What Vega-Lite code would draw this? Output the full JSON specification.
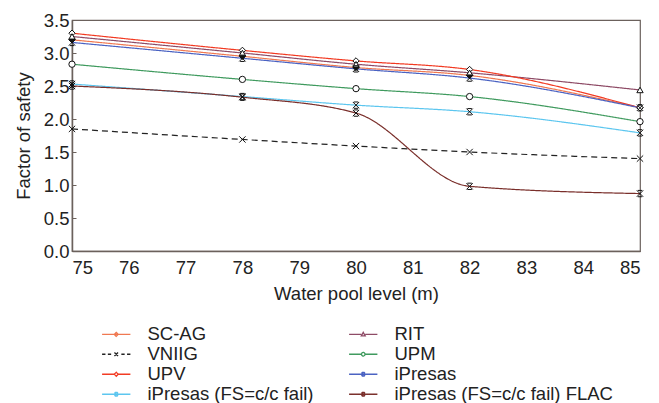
{
  "$schema": "https://vega.github.io/schema/vega-lite/v6.json",
  "autosize": {"type": "none"},
  "width": 568,
  "height": 231,
  "padding": {"left": 72, "top": 20, "right": 19, "bottom": 152},
  "background": "white",
  "config": {
    "font": "Liberation Sans",
    "view": {"stroke": "#6b615c", "strokeWidth": 1.2},
    "legend": {"padding": 0}
  },
  "data": {"values": [
    {"series": "SC-AG", "level": 75, "fs": 3.20}, {"series": "SC-AG", "level": 78, "fs": 2.95}, {"series": "SC-AG", "level": 80, "fs": 2.78}, {"series": "SC-AG", "level": 82, "fs": 2.66}, {"series": "SC-AG", "level": 85, "fs": 2.17},
    {"series": "RIT", "level": 75, "fs": 3.25}, {"series": "RIT", "level": 78, "fs": 3.00}, {"series": "RIT", "level": 80, "fs": 2.83}, {"series": "RIT", "level": 82, "fs": 2.70}, {"series": "RIT", "level": 85, "fs": 2.44},
    {"series": "VNIIG", "level": 75, "fs": 1.85}, {"series": "VNIIG", "level": 78, "fs": 1.69}, {"series": "VNIIG", "level": 80, "fs": 1.59}, {"series": "VNIIG", "level": 82, "fs": 1.50}, {"series": "VNIIG", "level": 85, "fs": 1.40},
    {"series": "UPM", "level": 75, "fs": 2.83}, {"series": "UPM", "level": 78, "fs": 2.60}, {"series": "UPM", "level": 80, "fs": 2.46}, {"series": "UPM", "level": 82, "fs": 2.34}, {"series": "UPM", "level": 85, "fs": 1.96},
    {"series": "UPV", "level": 75, "fs": 3.30}, {"series": "UPV", "level": 78, "fs": 3.04}, {"series": "UPV", "level": 80, "fs": 2.88}, {"series": "UPV", "level": 82, "fs": 2.75}, {"series": "UPV", "level": 85, "fs": 2.17},
    {"series": "iPresas", "level": 75, "fs": 3.16}, {"series": "iPresas", "level": 78, "fs": 2.92}, {"series": "iPresas", "level": 80, "fs": 2.76}, {"series": "iPresas", "level": 82, "fs": 2.62}, {"series": "iPresas", "level": 85, "fs": 2.17},
    {"series": "iPresas (FS=c/c  fail)", "level": 75, "fs": 2.53}, {"series": "iPresas (FS=c/c  fail)", "level": 78, "fs": 2.34}, {"series": "iPresas (FS=c/c  fail)", "level": 80, "fs": 2.21}, {"series": "iPresas (FS=c/c  fail)", "level": 82, "fs": 2.11}, {"series": "iPresas (FS=c/c  fail)", "level": 85, "fs": 1.79},
    {"series": "iPresas (FS=c/c  fail) FLAC", "level": 75, "fs": 2.50}, {"series": "iPresas (FS=c/c  fail) FLAC", "level": 78, "fs": 2.33}, {"series": "iPresas (FS=c/c  fail) FLAC", "level": 80, "fs": 2.09}, {"series": "iPresas (FS=c/c  fail) FLAC", "level": 82, "fs": 0.98}, {"series": "iPresas (FS=c/c  fail) FLAC", "level": 85, "fs": 0.87}
  ]},
  "encoding": {
    "x": {"field": "level", "type": "quantitative", "title": "Water pool level (m)", "scale": {"domain": [75, 85], "nice": false, "zero": false}, "axis": {"values": [75, 76, 77, 78, 79, 80, 81, 82, 83, 84, 85], "grid": false, "ticks": false, "domainColor": "#6b615c", "domainWidth": 1.5, "labelFont": "Liberation Sans", "titleFont": "Liberation Sans", "labelFontSize": 18.5, "titleFontSize": 18.5, "labelColor": "#222", "titleColor": "#222", "titleFontWeight": "normal", "labelPadding": 7, "titlePadding": 8}},
    "y": {"field": "fs", "type": "quantitative", "title": "Factor of safety", "scale": {"domain": [0, 3.5], "nice": false}, "axis": {"values": [0, 0.5, 1, 1.5, 2, 2.5, 3, 3.5], "format": ".1f", "grid": false, "ticks": true, "tickSize": -4, "tickColor": "#6b615c", "domainColor": "#6b615c", "domainWidth": 1.5, "labelFont": "Liberation Sans", "titleFont": "Liberation Sans", "labelFontSize": 18.5, "titleFontSize": 18.5, "labelColor": "#222", "titleColor": "#222", "titleFontWeight": "normal", "labelPadding": 7, "titlePadding": 10}}
  },
  "layer": [
    {
      "mark": {"type": "line", "interpolate": "monotone", "strokeWidth": 1.2},
      "encoding": {
        "color": {"field": "series", "type": "nominal", "scale": {"domain": ["SC-AG", "VNIIG", "UPV", "iPresas (FS=c/c  fail)", "RIT", "UPM", "iPresas", "iPresas (FS=c/c  fail) FLAC"], "range": ["#f07850", "#222222", "#f23a22", "#5cc6ef", "#8e4b66", "#3f9a5e", "#4a62c2", "#7a2f2b"]}, "legend": {"title": null, "orient": "none", "legendX": 35, "legendY": 305, "columns": 2, "columnPadding": 27, "rowPadding": 1, "symbolSize": 144, "symbolStrokeWidth": 1.3, "symbolFillColor": "white", "labelFontSize": 18.5, "labelFont": "Liberation Sans", "labelColor": "#222", "labelOffset": 22, "labelLimit": 400}},
        "strokeDash": {"field": "series", "type": "nominal", "legend": null, "scale": {"domain": ["SC-AG", "VNIIG", "UPV", "iPresas (FS=c/c  fail)", "RIT", "UPM", "iPresas", "iPresas (FS=c/c  fail) FLAC"], "range": [[1, 0], [6, 4], [1, 0], [1, 0], [1, 0], [1, 0], [1, 0], [1, 0]]}}
      }
    },
    {
      "transform": [{"filter": "datum.series === 'SC-AG'"}],
      "mark": {"type": "point", "shape": "diamond", "filled": true, "fill": "#111", "stroke": "#111", "strokeWidth": 1, "size": 40, "opacity": 1}
    },
    {
      "transform": [{"filter": "datum.series === 'UPV'"}],
      "mark": {"type": "point", "shape": "diamond", "filled": true, "fill": "white", "stroke": "#111", "strokeWidth": 1, "size": 40, "opacity": 1}
    },
    {
      "transform": [{"filter": "datum.series === 'RIT'"}],
      "mark": {"type": "point", "shape": "triangle-up", "filled": true, "fill": "white", "stroke": "#111", "strokeWidth": 1, "size": 40, "opacity": 1}
    },
    {
      "transform": [{"filter": "datum.series === 'UPM'"}],
      "mark": {"type": "point", "shape": "circle", "filled": true, "fill": "white", "stroke": "#111", "strokeWidth": 1, "size": 40, "opacity": 1}
    },
    {
      "transform": [{"filter": "datum.series === 'VNIIG'"}],
      "mark": {"type": "point", "shape": "M-1,-1L1,1M1,-1L-1,1", "filled": false, "stroke": "#111", "strokeWidth": 1, "size": 40, "opacity": 1}
    },
    {
      "transform": [{"filter": "indexof(['iPresas', 'iPresas (FS=c/c  fail)', 'iPresas (FS=c/c  fail) FLAC'], datum.series) >= 0"}],
      "mark": {"type": "point", "shape": "M-1,-1L1,1M1,-1L-1,1M-0.7,-1H0.7M-0.7,1H0.7", "filled": false, "stroke": "#111", "strokeWidth": 1, "size": 40, "opacity": 1}
    },
    {
      "transform": [{"filter": "datum.level < 0"}],
      "mark": {"type": "point", "filled": false, "strokeWidth": 1.3, "opacity": 1},
      "encoding": {
        "color": {"field": "series", "type": "nominal"},
        "shape": {"field": "series", "type": "nominal", "scale": {"domain": ["SC-AG", "VNIIG", "UPV", "iPresas (FS=c/c  fail)", "RIT", "UPM", "iPresas", "iPresas (FS=c/c  fail) FLAC"], "range": [
          "M-2.36,0H2.36M-0.33,0L0,-0.33L0.33,0L0,0.33Z",
          "M-2.36,0H-1.8M-1.4,0H-0.85M0.85,0H1.4M1.8,0H2.36M-0.3,-0.3L0.3,0.3M0.3,-0.3L-0.3,0.3",
          "M-2.36,0H-0.33M0.33,0H2.36M-0.33,0L0,-0.33L0.33,0L0,0.33Z",
          "M-2.36,0H2.36M-0.3,-0.3L0.3,0.3M0.3,-0.3L-0.3,0.3M-0.22,-0.3H0.22M-0.22,0.3H0.22",
          "M-2.36,0H-0.33M0.33,0H2.36M-0.33,0.25L0,-0.33L0.33,0.25Z",
          "M-2.36,0H-0.3M0.3,0H2.36M-0.3,0A0.3,0.3,0,1,0,0.3,0A0.3,0.3,0,1,0,-0.3,0",
          "M-2.36,0H2.36M-0.3,-0.3L0.3,0.3M0.3,-0.3L-0.3,0.3M-0.22,-0.3H0.22M-0.22,0.3H0.22",
          "M-2.36,0H2.36M-0.3,-0.3L0.3,0.3M0.3,-0.3L-0.3,0.3M-0.22,-0.3H0.22M-0.22,0.3H0.22"
        ]}, "legend": {"title": null, "orient": "none", "legendX": 35, "legendY": 305, "columns": 2, "columnPadding": 27, "rowPadding": 1, "symbolSize": 144, "symbolStrokeWidth": 1.3, "symbolFillColor": "white", "labelFontSize": 18.5, "labelFont": "Liberation Sans", "labelColor": "#222", "labelOffset": 22, "labelLimit": 400}}
      }
    }
  ]
}
